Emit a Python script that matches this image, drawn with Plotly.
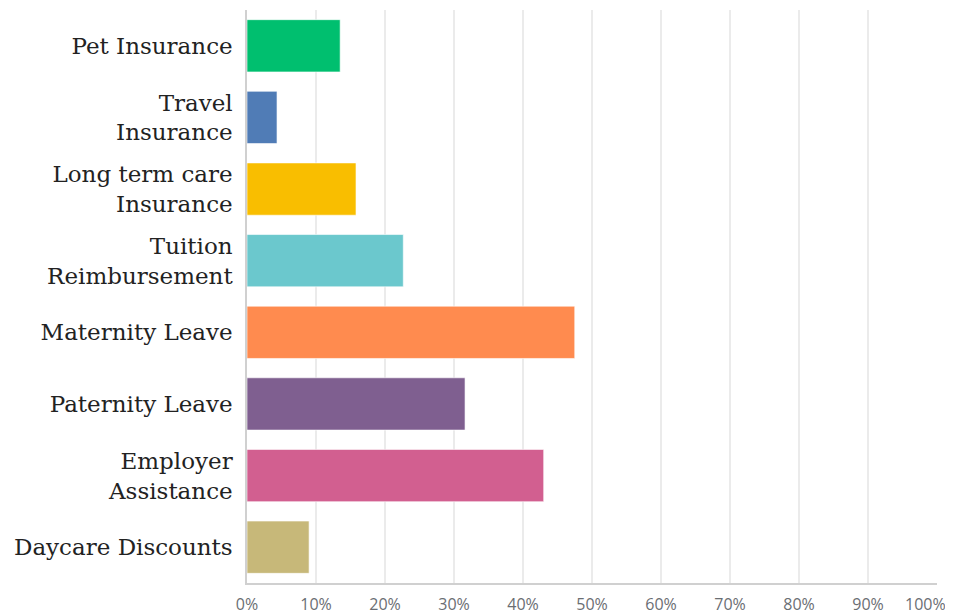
import plotly.graph_objects as go

categories = ["Pet Insurance", "Travel<br>Insurance", "Long term care<br>Insurance",
              "Tuition<br>Reimbursement", "Maternity Leave", "Paternity Leave",
              "Employer<br>Assistance", "Daycare Discounts"]
values = [13.5, 4.35, 15.8, 22.65, 47.5, 31.6, 43.0, 9.0]
colors = ["#00BF6F", "#507CB6", "#F9BE00", "#6BC8CD", "#FF8B4F", "#7F5F90", "#D25F90", "#C7B879"]
x_ticks = [0, 10, 20, 30, 40, 50, 60, 70, 80, 90, 100]
x_tick_labels = [f"{t}%" for t in x_ticks]
last_label = x_tick_labels[-1]
x_tick_labels[-1] = ""

tick_font = dict(family="Open Sans, sans-serif", size=16, color="#6a6e73")

fig = go.Figure(go.Bar(
    x=values, y=categories, orientation="h",
    marker=dict(color=colors, line=dict(color="rgba(255,255,255,0.6)", width=1)),
    width=0.73,
))

fig.add_annotation(x=x_ticks[-1], xref="x", y=0, yref="paper", text=last_label,
                   showarrow=False, xanchor="center", yanchor="middle",
                   xshift=-12, yshift=-21, font=tick_font)

fig.update_layout(
    width=945, height=606,
    margin=dict(l=239, r=16, t=2, b=31, autoexpand=False),
    paper_bgcolor="white", plot_bgcolor="white",
    showlegend=False,
    xaxis=dict(range=[0, 100], tickvals=x_ticks, ticktext=x_tick_labels,
               showgrid=True, gridcolor="#ebebeb", gridwidth=1.5,
               showline=True, linecolor="#d0d0d0", linewidth=1.5,
               ticks="outside", ticklen=6, tickcolor="rgba(0,0,0,0)",
               tickfont=tick_font,
               ticklabeloverflow="allow", automargin=False,
               zeroline=False),
    yaxis=dict(autorange="reversed", showline=True, linecolor="#d0d0d0", linewidth=1.5,
               ticks="outside", ticklen=8, tickcolor="rgba(0,0,0,0)",
               tickfont=dict(family="DejaVu Serif, serif", size=23, color="#222222"),
               showgrid=False, automargin=False),
)

fig.write_html("out.html")
